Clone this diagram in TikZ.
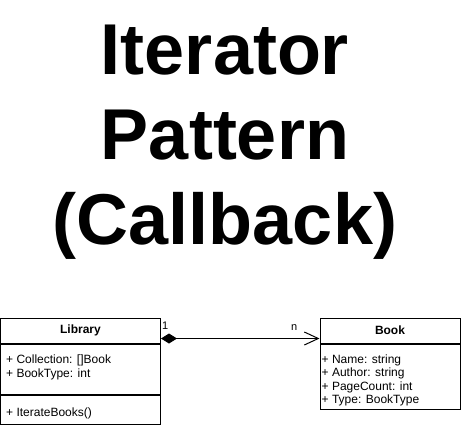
\documentclass[tikz,border=0pt]{standalone}
\usepackage{fontspec}
\setmainfont{Liberation Sans}
\usetikzlibrary{arrows.meta, positioning}
\tikzset{
    title/.style={
        align=center, inner sep=0pt,
        font=\fontsize{72}{85}\selectfont\bfseries
    },
    classhead/.style={
        rectangle, draw=black, line width=1pt,
        minimum height=25pt, inner sep=0pt,
        font=\fontsize{12}{14}\selectfont\bfseries
    },
    compartment/.style={
        rectangle, draw=black, line width=1pt, inner sep=0pt
    },
    members/.style={
        align=left, inner sep=0pt,
        font=\fontsize{12}{13.4}\selectfont
    },
    mult/.style={inner sep=0pt, font=\fontsize{11}{13}\selectfont},
    composition/.style={
        draw=black, line width=1pt,
        {Diamond[length=16pt,width=10pt]}-{Straight Barb[length=14pt,width=13pt,line width=1pt]}
    }
}

\begin{document}
\begin{tikzpicture}[x=1pt, y=-1pt]
\useasboundingbox (0,0) rectangle (461,426);

% Title
\node[title] (heading) at (225,142) {Iterator\\Pattern\\(Callback)};

% Library class
\node[classhead, minimum width=160pt] (libhead) at (80.5,330.5) {Library};
\node[compartment, minimum width=160pt, minimum height=50pt, below=0pt of libhead] (libattr) {};
\node[compartment, minimum width=160pt, minimum height=29pt, below=0pt of libattr] (libops) {};
\node[members, below right=11.5pt and 6pt of libattr.north west] (libattrtext) {+ Collection: []Book\\+ BookType: int};
\node[members, below right=13.5pt and 6pt of libops.north west] (libopstext) {+ IterateBooks()};

% Book class
\node[classhead, minimum width=140pt] (bookhead) at (390,330.5) {Book};
\node[compartment, minimum width=140pt, minimum height=65pt, below=0pt of bookhead] (bookattr) {};
\node[members, below right=11pt and 2pt of bookattr.north west] (bookattrtext) {+ Name: string\\+ Author: string\\+ PageCount: int\\+ Type: BookType};

% Composition
\draw[composition] ([yshift=-8pt]libhead.east) -- ([yshift=-8pt]bookhead.west);
\node[mult, above right=1pt and 1pt of libhead.east] (libmult) {1};
\node[mult, above left=0pt and 22pt of bookhead.west] (bookmult) {n};

\end{tikzpicture}
\end{document}
